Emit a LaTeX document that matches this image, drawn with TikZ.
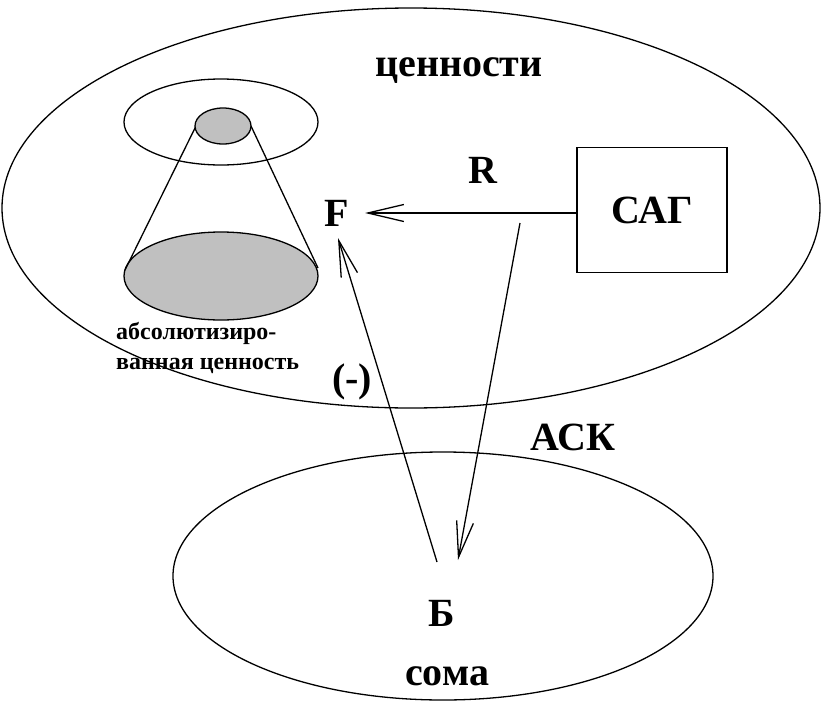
\documentclass[tikz,border=0pt]{standalone}
\usepackage{fontspec}
\setmainfont{Liberation Serif}
\usetikzlibrary{arrows.meta}
\definecolor{conegray}{RGB}{192,192,192}
\tikzset{
  outline/.style={draw=black, line width=1.3pt},
  lbl/.style={font=\fontsize{40}{44}\selectfont\bfseries, inner sep=0pt},
  smalllbl/.style={font=\fontsize{24}{30}\selectfont\bfseries, inner sep=0pt, align=left},
  arr/.style={draw=black, line width=1.3pt, -{Straight Barb[length=36pt,width=17pt,line width=1.3pt]}},
}
\begin{document}
\begin{tikzpicture}[x=1pt,y=-1pt]
\useasboundingbox (0,0) rectangle (823,702);
% big ellipse (values)
\draw[outline] (411,208) ellipse [x radius=409pt, y radius=200pt];
% soma ellipse
\draw[outline] (443,576) ellipse [x radius=270pt, y radius=124pt];
% cone
\draw[outline] (221,122) ellipse [x radius=97pt, y radius=43pt];
\draw[outline, fill=conegray] (221,276) ellipse [x radius=97pt, y radius=44pt];
\draw[outline] (196,126) -- (125,270);
\draw[outline] (251,126) -- (318,268);
\draw[outline, fill=conegray] (223,126) ellipse [x radius=28pt, y radius=18pt];
% labels
\node[lbl] (val) at (459,71) {ценности};
\node[lbl] (R) at (483,170) {R};
\node[lbl] (F) at (337,213) {F};
\node[draw=black, line width=1.3pt, minimum width=150pt, minimum height=125pt, inner sep=0pt,
      font=\fontsize{40}{44}\selectfont\bfseries] (sag) at (652,210) {САГ};
\node[lbl] (minus) at (352,382) {(-)};
\node[lbl] (ask) at (573,437) {АСК};
\node[lbl] (B) at (442,613) {Б};
\node[lbl] (soma) at (447,676) {сома};
\node[smalllbl, anchor=north west] (abs) at (116,322) {абсолютизиро-\\ванная ценность};
% connectors
\coordinate (ftip) at (365,213);
\coordinate (dstart) at (520,223);
\coordinate (dtip) at (458,560);
\coordinate (ustart) at (437,562);
\coordinate (utip) at (338,238);
\draw[arr] (sag.west |- ftip) -- (ftip);
\draw[arr] (dstart) -- (dtip);
\draw[arr] (ustart) -- (utip);
\end{tikzpicture}
\end{document}
